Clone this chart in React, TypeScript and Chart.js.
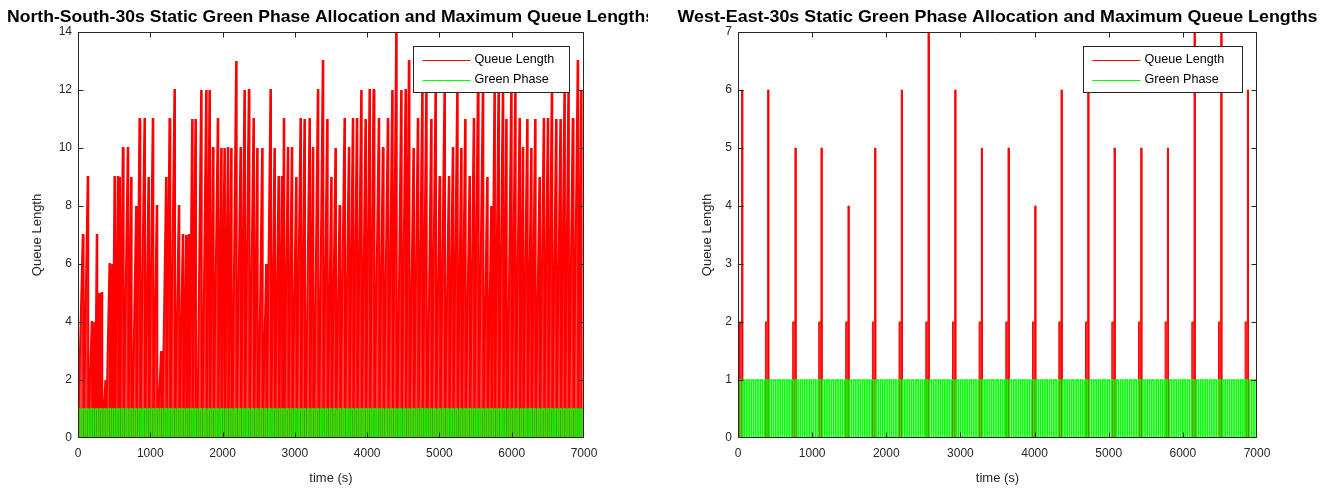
import React, { useEffect, useRef } from "react";
import { Chart, registerables } from "chart.js";

Chart.register(...registerables);

// ---------- data ----------
const xTickValues = [0, 1000, 2000, 3000, 4000, 5000, 6000, 7000];
const nsYTickValues = [0, 2, 4, 6, 8, 10, 12, 14];
const weYTickValues = [0, 1, 2, 3, 4, 5, 6, 7];

const nsTitle = "North-South-30s Static Green Phase Allocation and Maximum Queue Lengths";
const weTitle = "West-East-30s Static Green Phase Allocation and Maximum Queue Lengths";
const legendLabels = ["Queue Length", "Green Phase"];
const xAxisTitle = "time (s)";
const yAxisTitle = "Queue Length";

// North-South: time (s) of each queue peak and its height (vehicles)
const nsPeakTimes = [
  73, 142, 197, 235, 267, 304, 336, 387, 443, 480, 512, 558, 581, 627, 696, 742, 811, 858, 927, 982,
  1042, 1097, 1157, 1226, 1273, 1342, 1402, 1457, 1503, 1540, 1586, 1632, 1711,
  1780, 1826, 1872, 1941, 1988, 2033, 2080, 2126, 2195, 2255, 2310, 2370, 2435, 2486, 2555, 2610,
  2670, 2725, 2781, 2827, 2854, 2910, 2965, 3025, 3085, 3140, 3210, 3256, 3325, 3394, 3454,
  3510, 3569, 3625, 3694, 3754, 3809, 3864, 3925, 3984, 4040, 4095, 4168, 4224, 4293, 4354, 4409,
  4478, 4538, 4584, 4648, 4708, 4769, 4824, 4893, 4953, 5008, 5077, 5137, 5192,
  5253, 5308, 5363, 5423, 5482, 5538, 5607, 5668, 5723, 5768, 5824, 5884, 5931, 6000, 6055, 6115,
  6160, 6221, 6276, 6331, 6391, 6450, 6506, 6561, 6621, 6681, 6736, 6791, 6851, 6920, 6967,
];
const nsPeaks = [
  7, 9, 4, 4, 7, 5, 5, 2, 6, 6, 9, 9, 9, 10, 10, 9, 8, 11, 11, 9,
  11, 8, 3, 9, 11, 12, 8, 7, 7, 7, 11, 11, 12,
  12, 12, 10, 11, 10, 10, 10, 10, 13, 10, 12, 12, 11, 10, 10, 6,
  12, 10, 9, 9, 11, 10, 10, 9, 11, 11, 11, 10, 12, 13, 11,
  9, 10, 8, 11, 10, 11, 11, 12, 11, 12, 12, 11, 10, 11, 12, 14,
  12, 12, 13, 10, 11, 12, 12, 11, 12, 9, 12, 9, 10,
  12, 10, 11, 9, 11, 12, 12, 9, 8, 12, 12, 12, 11, 12, 12, 11,
  10, 11, 10, 11, 9, 11, 11, 12, 11, 11, 12, 12, 11, 13, 12,
];

// West-East: time (s) of each queue peak, peak height and the level held before it
const wePeakTimes = [63, 414, 782, 1133, 1497, 1857, 2216, 2577, 2937, 3296, 3656, 4016, 4371, 4731, 5086, 5446, 5805, 6165, 6525, 6884];
const wePeaks = [6, 6, 5, 5, 4, 5, 6, 7, 6, 5, 5, 4, 6, 6, 5, 5, 5, 7, 7, 6];
const weBaseLevels = [2, 2, 2, 2, 2, 2, 2, 2, 2, 2, 2, 2, 2, 2, 2, 2, 2, 2, 2, 2];

// Static green phase: state of each consecutive 30 s slot (1 = green)
const greenSlotSeconds = 30;
const greenPhase = [
  1, 0, 1, 0, 1, 0, 1, 0, 1, 0, 1, 0, 1, 0, 1, 0, 1, 0, 1, 0,
  1, 0, 1, 0, 1, 0, 1, 0, 1, 0, 1, 0, 1, 0, 1, 0, 1, 0, 1, 0,
  1, 0, 1, 0, 1, 0, 1, 0, 1, 0, 1, 0, 1, 0, 1, 0, 1, 0, 1, 0,
  1, 0, 1, 0, 1, 0, 1, 0, 1, 0, 1, 0, 1, 0, 1, 0, 1, 0, 1, 0,
  1, 0, 1, 0, 1, 0, 1, 0, 1, 0, 1, 0, 1, 0, 1, 0, 1, 0, 1, 0,
  1, 0, 1, 0, 1, 0, 1, 0, 1, 0, 1, 0, 1, 0, 1, 0, 1, 0, 1, 0,
  1, 0, 1, 0, 1, 0, 1, 0, 1, 0, 1, 0, 1, 0, 1, 0, 1, 0, 1, 0,
  1, 0, 1, 0, 1, 0, 1, 0, 1, 0, 1, 0, 1, 0, 1, 0, 1, 0, 1, 0,
  1, 0, 1, 0, 1, 0, 1, 0, 1, 0, 1, 0, 1, 0, 1, 0, 1, 0, 1, 0,
  1, 0, 1, 0, 1, 0, 1, 0, 1, 0, 1, 0, 1, 0, 1, 0, 1, 0, 1, 0,
  1, 0, 1, 0, 1, 0, 1, 0, 1, 0, 1, 0, 1, 0, 1, 0, 1, 0, 1, 0,
  1, 0, 1, 0, 1, 0, 1, 0, 1, 0, 1, 0, 1, 0,
];

// ---------- helpers ----------
const FONT = "'Liberation Sans', Arial, Helvetica, sans-serif";
const AXIS_COLOR = "#262626";
const RED = "#ff0000";
const GREEN = "#00ff00";
const X_MAX = 7000;

type Pt = { x: number; y: number };

// each North-South cycle: queue builds up to its peak, then discharges
function rampSeries(times: number[], peaks: number[], rise: number, plateau: number): Pt[] {
  const pts: Pt[] = [{ x: 0, y: 0 }];
  let prev = 0;
  times.forEach((t, i) => {
    const start = Math.max(t - rise, prev);
    pts.push({ x: start, y: 0 }, { x: t - plateau, y: peaks[i] }, { x: t, y: peaks[i] }, { x: t, y: 0 });
    prev = t;
  });
  pts.push({ x: X_MAX, y: 0 });
  return pts;
}

function stepSeries(times: number[], peaks: number[], bases: number[], peakWidth: number, baseWidth: number): Pt[] {
  const pts: Pt[] = [{ x: 0, y: 0 }];
  times.forEach((t, i) => {
    pts.push({ x: t - baseWidth, y: 0 }, { x: t - baseWidth, y: bases[i] }, { x: t - peakWidth, y: bases[i] });
    pts.push({ x: t - peakWidth, y: peaks[i] }, { x: t, y: peaks[i] }, { x: t, y: 0 });
  });
  pts.push({ x: X_MAX, y: 0 });
  return pts;
}

function greenSeries(): Pt[] {
  const pts: Pt[] = [];
  greenPhase.forEach((v, i) => {
    pts.push({ x: i * greenSlotSeconds, y: v });
    pts.push({ x: (i + 1) * greenSlotSeconds, y: v });
  });
  return pts;
}

type PanelCfg = {
  title: string;
  titleWidth: number;
  yTicks: number[];
  yMax: number;
  red: Pt[];
  redFill: string;
  redWidth: number;
  yTitleOffset: number;
  legendRightGap: number;
  legendWidth: number;
};

const decorPlugin = {
  id: "matlabDecor",
  afterDatasetsDraw(chart: any, _args: any, opts: any) {
    const cfg: PanelCfg = opts.cfg;
    const { ctx, chartArea: a, scales } = chart;
    const L = Math.round(a.left) + 0.5;
    const R = Math.round(a.right) - 0.5;
    const T = Math.round(a.top) + 0.5;
    const B = Math.round(a.bottom) - 0.5;
    ctx.save();
    ctx.strokeStyle = AXIS_COLOR;
    ctx.lineWidth = 1;
    ctx.beginPath();
    ctx.rect(L, T, R - L, B - T);
    ctx.stroke();
    const tl = 5;
    ctx.beginPath();
    xTickValues.forEach((v) => {
      let px = Math.round(scales.x.getPixelForValue(v)) + 0.5;
      px = Math.min(Math.max(px, L), R);
      ctx.moveTo(px, B);
      ctx.lineTo(px, B - tl);
      ctx.moveTo(px, T);
      ctx.lineTo(px, T + tl);
    });
    cfg.yTicks.forEach((v) => {
      let py = Math.round(scales.y.getPixelForValue(v)) + 0.5;
      py = Math.min(Math.max(py, T), B);
      ctx.moveTo(L, py);
      ctx.lineTo(L + tl, py);
      ctx.moveTo(R, py);
      ctx.lineTo(R - tl, py);
    });
    ctx.stroke();

    // legend
    const lw = cfg.legendWidth;
    const lh = 46;
    const lx = Math.round(a.right - cfg.legendRightGap - lw) + 0.5;
    const ly = Math.round(a.top + 14) + 0.5;
    ctx.fillStyle = "#ffffff";
    ctx.fillRect(lx, ly, lw, lh);
    ctx.strokeStyle = AXIS_COLOR;
    ctx.strokeRect(lx, ly, lw, lh);
    const rows = [
      { label: legendLabels[0], color: RED, y: ly + 13 },
      { label: legendLabels[1], color: GREEN, y: ly + 33 },
    ];
    ctx.font = `12px ${FONT}`;
    ctx.textBaseline = "middle";
    ctx.textAlign = "left";
    rows.forEach((r) => {
      ctx.strokeStyle = r.color;
      ctx.lineWidth = 1;
      ctx.beginPath();
      ctx.moveTo(lx + 9, Math.round(r.y) + 0.5);
      ctx.lineTo(lx + 57, Math.round(r.y) + 0.5);
      ctx.stroke();
      ctx.fillStyle = "#000000";
      ctx.save();
      ctx.translate(lx + 61, r.y + 0.5);
      ctx.scale(1.05, 1);
      ctx.fillText(r.label, 0, 0);
      ctx.restore();
    });
    ctx.restore();
  },
  afterDraw(chart: any, _args: any, opts: any) {
    const cfg: PanelCfg = opts.cfg;
    const { ctx, chartArea: a } = chart;
    const cx = (a.left + a.right) / 2;
    ctx.save();
    ctx.font = `bold 17px ${FONT}`;
    ctx.fillStyle = "#000000";
    ctx.textBaseline = "middle";
    ctx.textAlign = "center";
    const w = ctx.measureText(cfg.title).width;
    const sx = cfg.titleWidth / w;
    ctx.translate(cx, 17);
    ctx.scale(sx, 1);
    ctx.fillText(cfg.title, 0, 0);
    ctx.restore();

    ctx.save();
    ctx.fillStyle = AXIS_COLOR;
    ctx.font = `13px ${FONT}`;
    ctx.textAlign = "center";
    ctx.textBaseline = "middle";
    ctx.fillText(xAxisTitle, cx, 478);
    ctx.translate(a.left - cfg.yTitleOffset, (a.top + a.bottom) / 2);
    ctx.rotate(-Math.PI / 2);
    ctx.fillText(yAxisTitle, 0, 0);
    ctx.restore();
  },
};

function Panel({ cfg, width, left, padRight }: { cfg: PanelCfg; width: number; left: number; padRight: number }) {
  const ref = useRef<HTMLCanvasElement | null>(null);
  useEffect(() => {
    if (!ref.current) return;
    const chart = new Chart(ref.current, {
      type: "line",
      data: {
        datasets: [
          {
            label: legendLabels[1],
            data: greenSeries(),
            borderColor: GREEN,
            borderWidth: 1.7,
            pointRadius: 0,
            fill: false,
            order: 0,
          },
          {
            label: legendLabels[0],
            data: cfg.red,
            borderColor: RED,
            backgroundColor: cfg.redFill,
            borderWidth: cfg.redWidth,
            pointRadius: 0,
            fill: "origin",
            order: 1,
          },
        ],
      },
      options: {
        responsive: false,
        animation: false,
        devicePixelRatio: 1,
        layout: { padding: { top: 32, right: padRight, bottom: 0, left: 0 } },
        plugins: {
          legend: { display: false },
          tooltip: { enabled: false },
          title: { display: false },
          matlabDecor: { cfg },
        } as any,
        scales: {
          x: {
            type: "linear",
            min: 0,
            max: X_MAX,
            grid: { display: false, drawTicks: false },
            border: { display: false },
            ticks: {
              color: AXIS_COLOR,
              font: { size: 12, family: FONT },
              padding: 8,
              maxRotation: 0,
              autoSkip: false,
              callback: (v: any) => String(v),
            },
            afterBuildTicks: (s: any) => {
              s.ticks = xTickValues.map((v) => ({ value: v }));
            },
            afterFit: (s: any) => {
              s.height = 54;
            },
          },
          y: {
            type: "linear",
            min: 0,
            max: cfg.yMax,
            grid: { display: false, drawTicks: false },
            border: { display: false },
            ticks: { color: AXIS_COLOR, font: { size: 12, family: FONT }, padding: 6, autoSkip: false, callback: (v: any) => String(v) },
            afterBuildTicks: (s: any) => {
              s.ticks = cfg.yTicks.map((v) => ({ value: v }));
            },
            afterFit: (s: any) => {
              s.width = 78;
            },
          },
        },
      },
      plugins: [decorPlugin],
    } as any);
    return () => chart.destroy();
  }, [cfg, padRight]);
  return (
    <canvas
      ref={ref}
      width={width}
      height={492}
      style={{ position: "absolute", left, top: 0, width, height: 492, display: "block" }}
    />
  );
}

const nsCfg: PanelCfg = {
  title: nsTitle,
  titleWidth: 648,
  yTicks: nsYTickValues,
  yMax: 14,
  red: rampSeries(nsPeakTimes, nsPeaks, 60, 8),
  redFill: "rgba(255,30,30,0.85)",
  redWidth: 2,
  yTitleOffset: 41,
  legendRightGap: 15.5,
  legendWidth: 156,
};

const weCfg: PanelCfg = {
  title: weTitle,
  titleWidth: 640,
  yTicks: weYTickValues,
  yMax: 7,
  red: stepSeries(wePeakTimes, wePeaks, weBaseLevels, 14, 44),
  redFill: "rgba(255,0,0,0.85)",
  redWidth: 1,
  yTitleOffset: 31,
  legendRightGap: 15.5,
  legendWidth: 159,
};

export default function App() {
  return (
    <div style={{ position: "absolute", left: 0, top: 0, width: 1331, height: 492, background: "#ffffff", overflow: "hidden" }}>
      <Panel cfg={nsCfg} width={648} left={0} padRight={64} />
      <Panel cfg={weCfg} width={671} left={660} padRight={74} />
    </div>
  );
}
